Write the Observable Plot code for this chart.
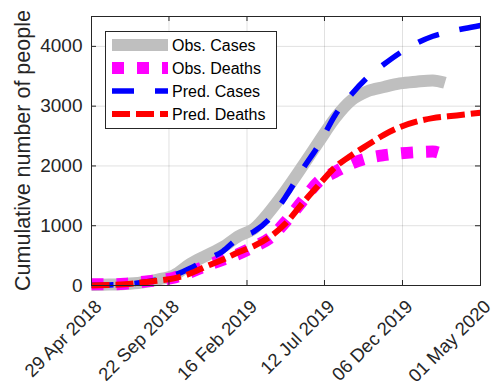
<!DOCTYPE html>
<html>
<head>
<meta charset="utf-8">
<script src="https://cdn.jsdelivr.net/npm/d3@7"></script>
<script src="https://cdn.jsdelivr.net/npm/@observablehq/plot@0.6"></script>
<style>
  body { margin: 0; background: #fff; }
</style>
</head>
<body>
<div id="chart"></div>
<script>
// Observed series (monthly readings, last one at the end of reporting)
const obsDates = ["2018-04-29","2018-06-01","2018-07-01","2018-08-01","2018-09-01","2018-10-01",
  "2018-11-01","2018-12-01","2019-01-01","2019-02-01","2019-03-01","2019-04-01","2019-05-01",
  "2019-06-01","2019-07-01","2019-08-01","2019-09-01","2019-10-01","2019-11-01","2019-12-01",
  "2020-01-01","2020-02-01","2020-02-24"];
const obsCases = [10,15,25,50,100,170,360,500,640,830,950,1250,1600,2000,2400,2800,3100,3250,3320,3380,3410,3430,3390];
const obsDeaths = [20,20,30,60,90,130,220,330,430,530,650,800,1080,1420,1740,1900,2040,2130,2180,2210,2230,2240,2180];

// Model predictions
const predDates = ["2018-04-29","2018-06-01","2018-07-01","2018-08-01","2018-09-01","2018-10-01",
  "2018-11-01","2018-12-01","2019-01-01","2019-02-01","2019-03-01","2019-04-01","2019-05-01",
  "2019-06-01","2019-07-01","2019-08-01","2019-09-01","2019-10-01","2019-11-01","2019-12-01",
  "2020-01-01","2020-02-01","2020-03-01","2020-04-01","2020-05-01"];
const predCases = [5,10,20,50,100,170,290,430,570,800,900,1130,1500,1950,2350,2850,3200,3480,3700,3890,4050,4170,4240,4300,4350];
const predDeaths = [0,10,20,50,80,120,200,320,430,560,660,820,1050,1380,1680,1980,2180,2350,2520,2650,2740,2800,2830,2860,2890];

// Axis ticks
const xTicks = ["2018-04-29","2018-09-22","2019-02-16","2019-07-12","2019-12-06","2020-05-01"];
const yTicks = [0, 1000, 2000, 3000, 4000];
const seriesNames = ["Obs. Cases", "Obs. Deaths", "Pred. Cases", "Pred. Deaths"];
const yTitle = "Cumulative number of people";

const parse = d3.utcParse("%Y-%m-%d");
const rows = (dates, values) => dates.map((d, i) => ({date: parse(d), value: values[i]}));

const styles = [
  {stroke: "#bfbfbf", strokeWidth: 12, strokeDasharray: null},
  {stroke: "#ff00ff", strokeWidth: 12, strokeDasharray: "12,13"},
  {stroke: "#0000ff", strokeWidth: 5.5, strokeDasharray: "22,21"},
  {stroke: "#ff0000", strokeWidth: 6, strokeDasharray: "18,6"}
];
const data = [rows(obsDates, obsCases), rows(obsDates, obsDeaths), rows(predDates, predCases), rows(predDates, predDeaths)];

const W = 494, H = 387;
const mt = 16, mr = 14, mb = 102, ml = 91;
const pw = W - ml - mr, ph = H - mt - mb;
const ink = "#262626";
const font = "'Liberation Sans', Arial, Helvetica, sans-serif";
const xTickDates = xTicks.map(parse);

const plot = Plot.plot({
  width: W, height: H,
  marginTop: mt, marginRight: mr, marginBottom: mb, marginLeft: ml,
  style: {fontFamily: font, background: "#fff", color: ink, overflow: "visible"},
  x: {type: "utc", domain: [parse("2018-04-29"), parse("2020-05-01")]},
  y: {domain: [0, 4500]},
  marks: [
    Plot.gridX(xTickDates, {stroke: "#000", strokeOpacity: 0.12}),
    Plot.gridY(yTicks, {stroke: "#000", strokeOpacity: 0.12}),
    ...data.map((d, i) => Plot.line(d, {
      x: "date", y: "value", curve: "monotone-x",
      stroke: styles[i].stroke, strokeWidth: styles[i].strokeWidth,
      strokeDasharray: styles[i].strokeDasharray, strokeLinecap: "butt", strokeLinejoin: "round"
    })),
    // inward tick marks on all four sides
    Plot.tickY(yTicks, {y: d => d, insetRight: pw - 5, stroke: ink}),
    Plot.tickY(yTicks, {y: d => d, insetLeft: pw - 5, stroke: ink}),
    Plot.tickX(xTickDates, {x: d => d, insetTop: ph - 5, stroke: ink}),
    Plot.tickX(xTickDates, {x: d => d, insetBottom: ph - 5, stroke: ink}),
    Plot.frame({stroke: ink}),
    Plot.axisY(yTicks, {tickSize: 0, tickPadding: 9, fontSize: 19, label: null, fill: ink,
      tickFormat: d => String(d)}),
    Plot.axisX(xTickDates, {tickSize: 0, tickPadding: 6, tickRotate: -45, fontSize: 18.5, label: null, fill: ink,
      dx: 7, dy: 12, tickFormat: d3.utcFormat("%d %b %Y")})
  ]
});

const svg = d3.select(plot);

// Y axis title
svg.append("text")
  .attr("transform", `translate(22,${mt + ph / 2}) rotate(-90)`)
  .attr("text-anchor", "middle").attr("dy", "0.35em")
  .attr("font-family", font).attr("font-size", 21.5).attr("fill", ink)
  .text(yTitle);

// Legend box in the upper-left corner of the axes
const lg = svg.append("g").attr("font-family", font).attr("font-size", 16).attr("text-anchor", "start");
lg.append("rect").attr("x", 105.5).attr("y", 31.5).attr("width", 171).attr("height", 97)
  .attr("fill", "#fff").attr("stroke", ink);
seriesNames.forEach((name, i) => {
  const y = 45 + i * 23;
  lg.append("line").attr("x1", 112).attr("x2", 168).attr("y1", y).attr("y2", y)
    .attr("stroke", styles[i].stroke).attr("stroke-width", styles[i].strokeWidth)
    .attr("stroke-dasharray", styles[i].strokeDasharray);
  lg.append("text").attr("x", 172).attr("y", y).attr("dy", "0.35em").attr("fill", "#000").text(name);
});

document.getElementById("chart").appendChild(plot);
</script>
</body>
</html>
